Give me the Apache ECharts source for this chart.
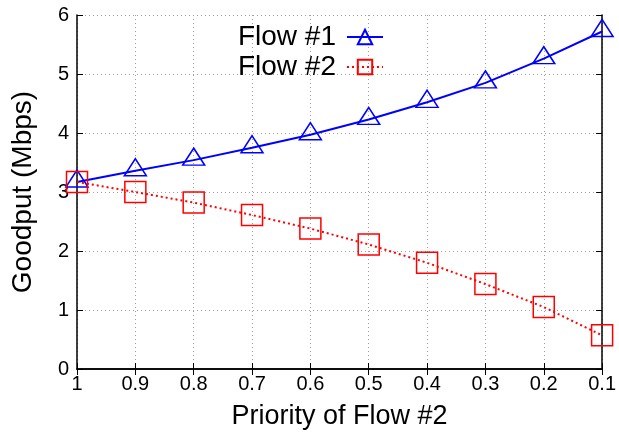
<!DOCTYPE html>
<html><head><meta charset="utf-8">
<script src="https://cdn.jsdelivr.net/npm/echarts@6/dist/echarts.min.js"></script>
<style>html,body{margin:0;padding:0;background:#fff}#c{width:619px;height:435px}</style>
</head><body><div id="c"></div>
<script>
const categories = ['1','0.9','0.8','0.7','0.6','0.5','0.4','0.3','0.2','0.1'];
const flow1 = [3.17, 3.36, 3.54, 3.75, 3.97, 4.23, 4.52, 4.85, 5.26, 5.72];
const flow2 = [3.17, 3.00, 2.82, 2.61, 2.38, 2.11, 1.80, 1.44, 1.05, 0.57];
const yTicks = [0, 1, 2, 3, 4, 5, 6];

const font = 'Liberation Sans, Arial, sans-serif';
const chart = echarts.init(document.getElementById('c'), null, {renderer: 'canvas'});
const gridLine = {show: true, lineStyle: {color: '#a0a0a0', type: [1, 3], width: 1}};
chart.setOption({
  animation: false,
  backgroundColor: '#fff',
  grid: {left: 77, right: 16, top: 15, bottom: 64, containLabel: false},
  legend: {
    top: 18, right: 230, orient: 'vertical', align: 'right',
    itemWidth: 36, itemHeight: 18, itemGap: 2,
    textStyle: {fontFamily: font, fontSize: 28, lineHeight: 26, color: '#000', padding: [0, 6, 0, 0]},
    data: ['Flow #1', 'Flow #2']
  },
  xAxis: [{
    type: 'category', data: categories, boundaryGap: false,
    axisLine: {lineStyle: {color: '#000', width: 1.5}},
    axisTick: {inside: true, length: 6, alignWithLabel: true, lineStyle: {color: '#000'}},
    axisLabel: {fontFamily: font, fontSize: 20, color: '#000', margin: 5, interval: 0},
    splitLine: gridLine,
    name: 'Priority of Flow #2', nameLocation: 'middle', nameGap: 34,
    nameTextStyle: {fontFamily: font, fontSize: 27, color: '#000'}
  }, {
    type: 'category', data: categories, boundaryGap: false, position: 'top',
    axisLine: {lineStyle: {color: '#000', width: 1.5}},
    axisTick: {inside: true, length: 6, lineStyle: {color: '#000'}},
    axisLabel: {show: false}, splitLine: {show: false}
  }],
  yAxis: [{
    type: 'value', min: 0, max: 6, interval: 1,
    axisLine: {show: true, lineStyle: {color: '#000', width: 1.5}},
    axisTick: {show: true, inside: true, length: 6, lineStyle: {color: '#000'}},
    axisLabel: {fontFamily: font, fontSize: 20, color: '#000', margin: 8,
      formatter: v => yTicks.includes(v) ? String(v) : ''},
    splitLine: gridLine,
    name: 'Goodput (Mbps)', nameLocation: 'middle', nameGap: 40, nameRotate: 90,
    nameTextStyle: {fontFamily: font, fontSize: 28, color: '#000'}
  }, {
    type: 'value', min: 0, max: 6, interval: 1, position: 'right',
    axisLine: {show: true, lineStyle: {color: '#000', width: 1.5}},
    axisTick: {show: true, inside: true, length: 6, lineStyle: {color: '#000'}},
    axisLabel: {show: false}, splitLine: {show: false}
  }],
  series: [{
    name: 'Flow #1', type: 'line', data: flow1,
    symbol: 'triangle', symbolSize: [22, 17], symbolOffset: [0, -3.5],
    lineStyle: {color: '#0000ff', width: 2},
    itemStyle: {color: 'rgba(0,0,0,0)', borderColor: '#0000ff', borderWidth: 1.5},
    z: 3
  }, {
    name: 'Flow #2', type: 'line', data: flow2,
    symbol: 'rect', symbolSize: 21,
    lineStyle: {color: '#ff0000', width: 2, type: [2, 3]},
    itemStyle: {color: 'rgba(0,0,0,0)', borderColor: '#ff0000', borderWidth: 1.5},
    z: 3
  }]
});
</script></body></html>
